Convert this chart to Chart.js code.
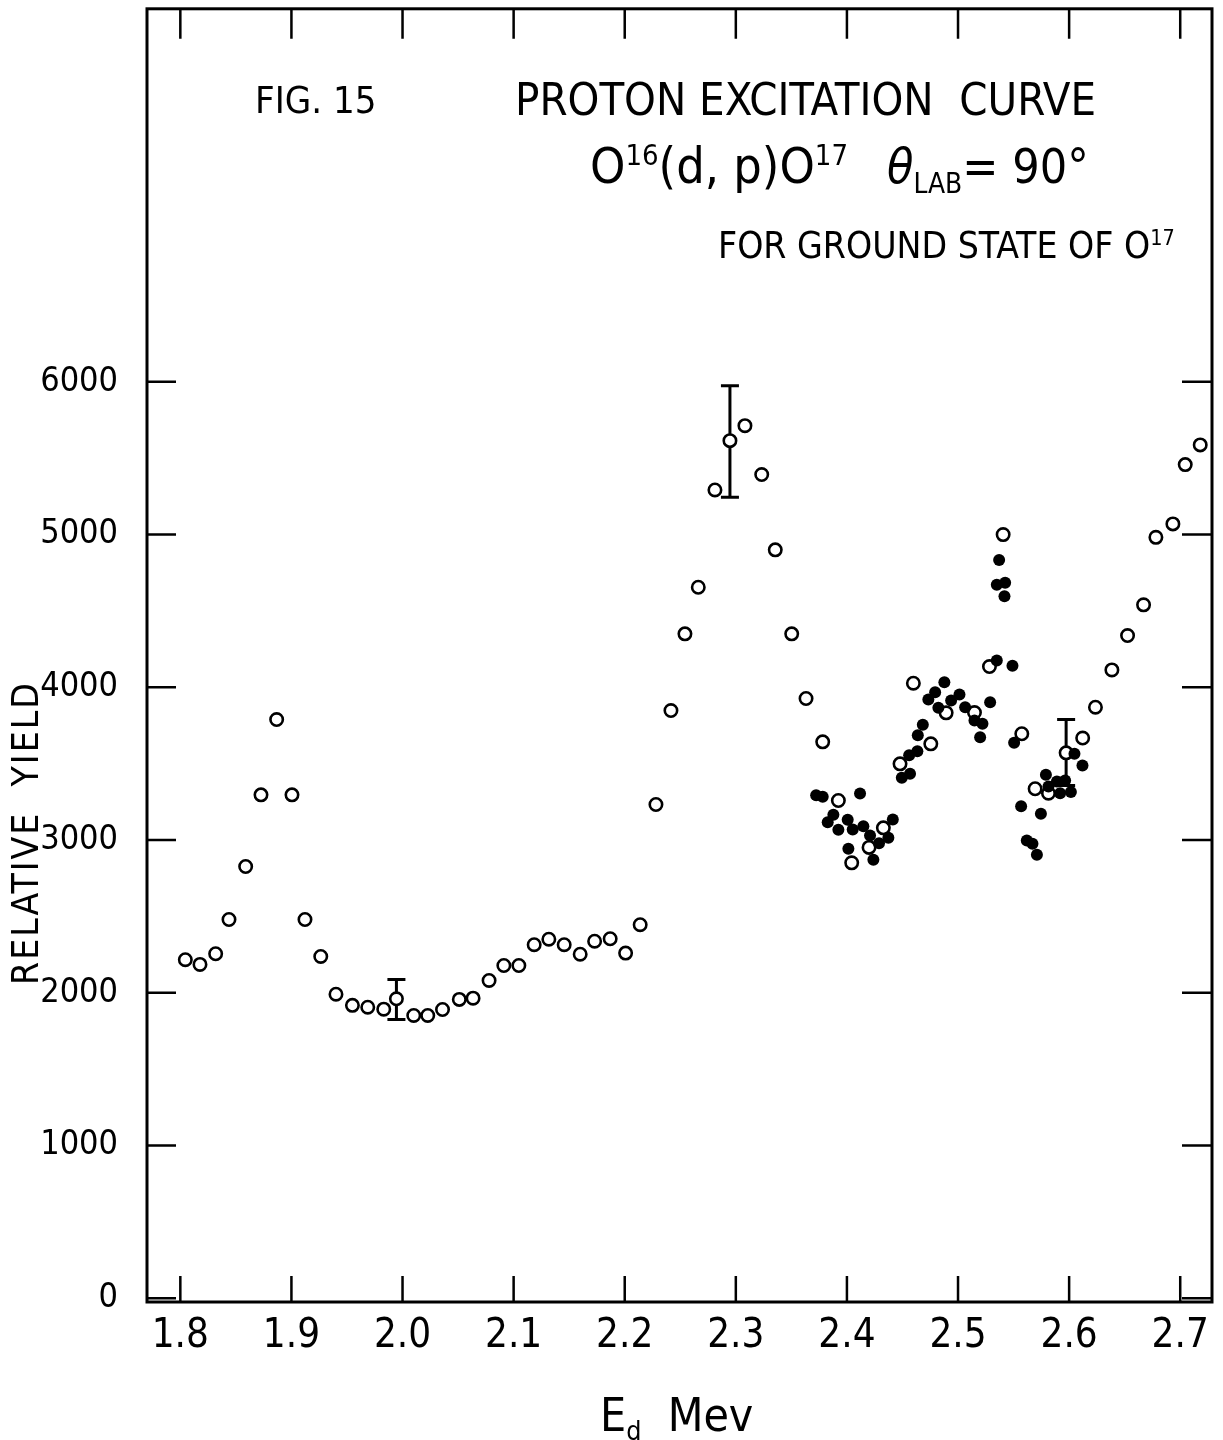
<!DOCTYPE html>
<html>
<head>
<meta charset="utf-8">
<title>Proton excitation curve</title>
<script src="https://cdn.jsdelivr.net/npm/chart.js@4.4.1/dist/chart.umd.min.js"></script>
<style>
    body { margin: 0; background: #fff; }
    #wrap { position: relative; width: 1223px; height: 1440px; }
    #wrap canvas { position: absolute; left: 0; top: 0; }
    .lbl {
        position: absolute;
        font-family: 'DejaVu Sans Condensed', 'DejaVu Sans', sans-serif;
        color: #000;
        line-height: 1;
        white-space: nowrap;
    }
    .lbl sup, .lbl sub { font-size: 0.58em; line-height: 0; }
    .lbl sup { vertical-align: 0.62em; }
    .lbl sub { vertical-align: -0.35em; }
</style>
</head>
<body>
<div id="wrap">
    <canvas id="chart" width="1223" height="1440"></canvas>
    <div class="lbl" style="left:255px; top:81px; font-size:38px;">FIG. 15</div>
    <div class="lbl" style="left:515px; top:77px; font-size:45px;">PROTON EXCITATION&nbsp; CURVE</div>
    <div class="lbl" style="left:590px; top:141px; font-size:50px;">O<sup>16</sup>(d, p)O<sup>17</sup></div>
    <div class="lbl" style="left:887px; top:142px; font-size:48px;"><i>θ</i><sub>LAB</sub>= 90°</div>
    <div class="lbl" style="left:718px; top:227px; font-size:37px;">FOR GROUND STATE OF O<sup>17</sup></div>
    <div class="lbl" style="left:600px; top:1392px; font-size:46px;">E<sub>d</sub>&nbsp; Mev</div>
    <div class="lbl" style="left:7px; top:985px; font-size:37px; letter-spacing:2px; transform-origin:0 0; transform:rotate(-90deg);">RELATIVE&nbsp; YIELD</div>
</div>
<script>
// axis ticks
const xTicks = [1.8, 1.9, 2.0, 2.1, 2.2, 2.3, 2.4, 2.5, 2.6, 2.7];
const yTicks = [0, 1000, 2000, 3000, 4000, 5000, 6000];

// open circles: deuteron energy (MeV) and relative yield
const openE = [
    1.8045, 1.8177, 1.8318, 1.8438, 1.8588, 1.8726, 1.8867, 1.9005, 1.9122, 1.9264,
    1.9401, 1.9549, 1.9687, 1.9831, 1.9945, 2.0101, 2.0227, 2.0360, 2.0511, 2.0635,
    2.0779, 2.0912, 2.1047, 2.1185, 2.1317, 2.1455, 2.1599, 2.1729, 2.1869, 2.2008,
    2.2139, 2.2281, 2.2416, 2.2542, 2.2662, 2.2812, 2.2947, 2.3082, 2.3233, 2.3355,
    2.3503, 2.3632, 2.3782, 2.3923, 2.4043, 2.4199, 2.4328, 2.4478, 2.4598, 2.4755,
    2.4893, 2.5148, 2.5283, 2.5406, 2.5574, 2.5694, 2.5814, 2.5973, 2.6122, 2.6237,
    2.6385, 2.6526, 2.6670, 2.6781, 2.6934, 2.7045, 2.7180
];
const openYield = [
    2217, 2186, 2256, 2480, 2827, 3296, 3789, 3296, 2480, 2238,
    1991, 1918, 1906, 1893, 1961, 1852, 1852, 1891, 1957, 1965,
    2081, 2179, 2179, 2315, 2351, 2315, 2253, 2338, 2354, 2260,
    2446, 3233, 3848, 4350, 4655, 5292, 5615, 5713, 5393, 4900,
    4350, 3927, 3643, 3259, 2851, 2952, 3080, 3499, 4027, 3630,
    3833, 3835, 4136, 5000, 3696, 3336, 3307, 3571, 3668, 3870,
    4114, 4339, 4540, 4982, 5070, 5458, 5587
];

// filled circles
const solidE = [
    2.3723, 2.3782, 2.3827, 2.3878, 2.3923, 2.4007, 2.4013, 2.4052, 2.4118, 2.4148,
    2.4208, 2.4238, 2.4289, 2.4373, 2.4413, 2.4494, 2.4568, 2.4560, 2.4634, 2.4638,
    2.4683, 2.4733, 2.4794, 2.4823, 2.4877, 2.4938, 2.5013, 2.5064, 2.5148, 2.5220,
    2.5199, 2.5289, 2.5349, 2.5490, 2.5370, 2.5349, 2.5424, 2.5418, 2.5505, 2.5568,
    2.5619, 2.5670, 2.5710, 2.5746, 2.5791, 2.5814, 2.5890, 2.5964, 2.5919, 2.6016,
    2.6048, 2.6120
];
const solidYield = [
    3294, 3283, 3117, 3166, 3067, 3133, 2943, 3069, 3305, 3091,
    3030, 2871, 2980, 3015, 3135, 3408, 3434, 3556, 3582, 3686,
    3755, 3920, 3968, 3866, 4033, 3914, 3953, 3870, 3783, 3761,
    3673, 3902, 4175, 4141, 4834, 4671, 4684, 4596, 3637, 3222,
    2997, 2976, 2904, 3172, 3427, 3351, 3384, 3390, 3307, 3314,
    3565, 3488
];

// error bars
const errE = [1.9945, 2.2947, 2.5973];
const errLow = [1826, 5244, 3357];
const errHigh = [2088, 5975, 3789];

const toPoints = (xs, ys) => xs.map((x, i) => ({ x: x, y: ys[i] }));

const letterFont = "'DejaVu Sans Condensed', 'DejaVu Sans', sans-serif";

// draws the error bars under the markers
const errorBars = {
    id: 'errorBars',
    beforeDatasetsDraw(chart) {
        const ctx = chart.ctx;
        const xs = chart.scales.x;
        const ys = chart.scales.y;
        ctx.save();
        ctx.strokeStyle = '#000';
        ctx.lineWidth = 3;
        errE.forEach((e, i) => {
            const px = xs.getPixelForValue(e);
            const lo = ys.getPixelForValue(errLow[i]);
            const hi = ys.getPixelForValue(errHigh[i]);
            ctx.beginPath();
            ctx.moveTo(px, lo);
            ctx.lineTo(px, hi);
            ctx.moveTo(px - 9, lo);
            ctx.lineTo(px + 9, lo);
            ctx.moveTo(px - 9, hi);
            ctx.lineTo(px + 9, hi);
            ctx.stroke();
        });
        ctx.restore();
    }
};

// box round the plot with inward ticks on all four sides
const frame = {
    id: 'frame',
    afterDatasetsDraw(chart) {
        const ctx = chart.ctx;
        const a = chart.chartArea;
        const xs = chart.scales.x;
        const ys = chart.scales.y;
        ctx.save();
        ctx.strokeStyle = '#000';
        ctx.lineWidth = 3;
        ctx.strokeRect(a.left, a.top, a.right - a.left, a.bottom - a.top);
        ctx.lineWidth = 2.5;
        ctx.beginPath();
        xTicks.forEach(v => {
            const px = xs.getPixelForValue(v);
            ctx.moveTo(px, a.bottom);
            ctx.lineTo(px, a.bottom - 26);
            ctx.moveTo(px, a.top);
            ctx.lineTo(px, a.top + 30);
        });
        yTicks.forEach(v => {
            const py = ys.getPixelForValue(v);
            ctx.moveTo(a.left, py);
            ctx.lineTo(a.left + 29, py);
            ctx.moveTo(a.right, py);
            ctx.lineTo(a.right - 30, py);
        });
        ctx.stroke();
        ctx.restore();
    }
};

new Chart(document.getElementById('chart'), {
    type: 'scatter',
    data: {
        datasets: [
            {
                label: 'filled',
                data: toPoints(solidE, solidYield),
                pointStyle: 'circle',
                pointRadius: 6,
                pointBorderWidth: 0,
                backgroundColor: '#000',
                borderColor: '#000'
            },
            {
                label: 'open',
                data: toPoints(openE, openYield),
                pointStyle: 'circle',
                pointRadius: 6.2,
                pointBorderWidth: 2.6,
                backgroundColor: '#fff',
                borderColor: '#000'
            }
        ]
    },
    options: {
        responsive: false,
        animation: false,
        devicePixelRatio: 1,
        layout: { padding: { left: 0, top: 8, right: 11, bottom: 0 } },
        plugins: {
            legend: { display: false },
            tooltip: { enabled: false }
        },
        scales: {
            x: {
                type: 'linear',
                min: 1.77,
                max: 2.7286,
                grid: { display: false },
                border: { display: false },
                afterBuildTicks: scale => { scale.ticks = xTicks.map(v => ({ value: v })); },
                afterFit: scale => {
                    scale.height = 138;
                    scale.paddingLeft = 0;
                    scale.paddingRight = 0;
                },
                ticks: {
                    color: '#000',
                    padding: 3,
                    maxRotation: 0,
                    font: { family: letterFont, size: 40 },
                    callback: v => v.toFixed(1)
                }
            },
            y: {
                type: 'linear',
                min: -24,
                max: 8442,
                grid: { display: false },
                border: { display: false },
                afterBuildTicks: scale => { scale.ticks = yTicks.map(v => ({ value: v })); },
                afterFit: scale => {
                    scale.width = 147;
                    scale.paddingTop = 0;
                    scale.paddingBottom = 0;
                },
                ticks: {
                    color: '#000',
                    padding: 21,
                    font: { family: letterFont, size: 34 },
                    callback: v => String(v)
                }
            }
        }
    },
    plugins: [errorBars, frame]
});
</script>
</body>
</html>
